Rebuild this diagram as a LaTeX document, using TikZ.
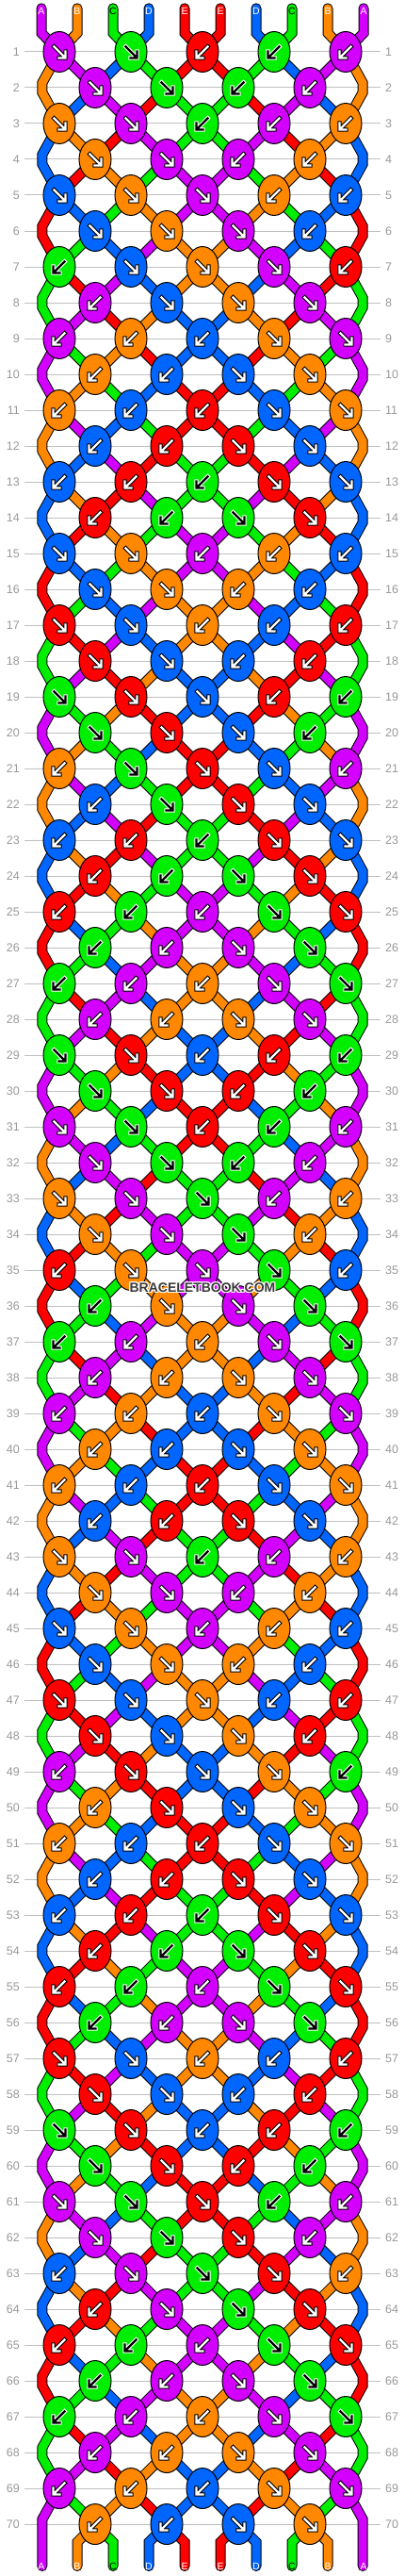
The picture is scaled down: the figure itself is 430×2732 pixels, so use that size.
\documentclass[tikz,border=0pt]{standalone}
\usepackage{fontspec}
\setmainfont{Liberation Sans}
\usetikzlibrary{shapes.geometric}
\definecolor{cA}{HTML}{D400FF}
\definecolor{cB}{HTML}{FF8800}
\definecolor{cC}{HTML}{00EE00}
\definecolor{cD}{HTML}{0066FF}
\definecolor{cE}{HTML}{FF0000}
\colorlet{fgA}{white}\colorlet{fgB}{white}\colorlet{fgC}{black}\colorlet{fgD}{white}\colorlet{fgE}{white}
\colorlet{bgA}{black}\colorlet{bgB}{black}\colorlet{bgC}{white}\colorlet{bgD}{black}\colorlet{bgE}{black}
\definecolor{gridgray}{HTML}{C0C0C0}
\definecolor{numgray}{HTML}{999999}
\definecolor{wmgray}{HTML}{3A3A3A}
\pgfdeclarelayer{gridlayer}
\pgfdeclarelayer{threadlayer}
\pgfsetlayers{gridlayer,threadlayer,main}
% initial string order
\expandafter\def\csname S1\endcsname{A}
\expandafter\def\csname S2\endcsname{B}
\expandafter\def\csname S3\endcsname{C}
\expandafter\def\csname S4\endcsname{D}
\expandafter\def\csname S5\endcsname{E}
\expandafter\def\csname S6\endcsname{E}
\expandafter\def\csname S7\endcsname{D}
\expandafter\def\csname S8\endcsname{C}
\expandafter\def\csname S9\endcsname{B}
\expandafter\def\csname S10\endcsname{A}
% knot directions, period 14 rows
\expandafter\def\csname D1\endcsname{f,f,b,b,b}
\expandafter\def\csname D2\endcsname{f,f,b,b}
\expandafter\def\csname D3\endcsname{f,f,b,b,b}
\expandafter\def\csname D4\endcsname{f,f,b,b}
\expandafter\def\csname D5\endcsname{f,f,f,b,b}
\expandafter\def\csname D6\endcsname{f,f,f,b}
\expandafter\def\csname D7\endcsname{b,f,f,f,b}
\expandafter\def\csname D8\endcsname{b,f,f,f}
\expandafter\def\csname D9\endcsname{b,b,b,f,f}
\expandafter\def\csname D10\endcsname{b,b,f,f}
\expandafter\def\csname D11\endcsname{b,b,b,f,f}
\expandafter\def\csname D12\endcsname{b,b,f,f}
\expandafter\def\csname D13\endcsname{b,b,b,f,f}
\expandafter\def\csname D14\endcsname{b,b,f,f}
\newcommand\arrowSE[4]{%
  \draw[draw=#4, line width=4.4pt, line cap=rect, line join=miter, shift={(#1,#2)}]
    (-5.5,-5.5) -- (5,5) (-0.5,6.5) -- (6.5,6.5) -- (6.5,-0.5);
  \draw[draw=#3, line width=2.4pt, line cap=rect, line join=miter, shift={(#1,#2)}]
    (-5.5,-5.5) -- (5,5) (-0.5,6.5) -- (6.5,6.5) -- (6.5,-0.5);
}
\newcommand\arrowSW[4]{%
  \draw[draw=#4, line width=4.4pt, line cap=rect, line join=miter, shift={(#1,#2)}]
    (5.5,-5.5) -- (-5,5) (0.5,6.5) -- (-6.5,6.5) -- (-6.5,-0.5);
  \draw[draw=#3, line width=2.4pt, line cap=rect, line join=miter, shift={(#1,#2)}]
    (5.5,-5.5) -- (-5,5) (0.5,6.5) -- (-6.5,6.5) -- (-6.5,-0.5);
}
\tikzset{
  knot/.style={ellipse, draw=black, line width=1pt, minimum width=34pt, minimum height=43pt, inner sep=0pt},
  thread/.style={draw=black, line width=1pt, double distance=9pt, line cap=round, line join=miter},
  rownum/.style={text=numgray, inner sep=0pt, font=\fontsize{12.5}{14}\selectfont},
  strlabel/.style={inner sep=0pt, font=\fontsize{10.5}{12}\selectfont},
  wmark/.style={inner sep=0pt, font=\bfseries\fontsize{14}{16}\selectfont},
  gridline/.style={draw=gridgray, line width=1pt}
}
\begin{document}
\begin{tikzpicture}[x=1pt,y=-1pt]
\useasboundingbox (0,0) rectangle (430,2732);
\begin{pgfonlayer}{gridlayer}
\fill[white] (0,0) rectangle (430,2732);
\foreach \row in {1,...,70}{
  \pgfmathsetmacro{\yy}{55+38*(\row-1)}
  \coordinate (gl-\row) at (26,\yy);
  \coordinate (gr-\row) at (404,\yy);
  \draw[gridline] (gl-\row) -- (gr-\row);
}
\end{pgfonlayer}
\foreach \row in {1,...,70}{
  \pgfmathsetmacro{\yy}{55+38*(\row-1)}
  \node[rownum, anchor=east] (ln-\row) at (21,\yy) {\row};
  \node[rownum, anchor=west] (rn-\row) at (409,\yy) {\row};
}
% knots (simulation)
\foreach \row in {1,...,70}{
  \pgfmathtruncatemacro{\m}{mod(\row-1,14)+1}
  \pgfmathtruncatemacro{\od}{mod(\row,2)}
  \pgfmathsetmacro{\yy}{55+38*(\row-1)}
  \edef\dlist{\csname D\m\endcsname}
  \foreach \kd [count=\ki] in \dlist {
    \pgfmathtruncatemacro{\pa}{\od==1 ? 2*\ki-1 : 2*\ki}
    \pgfmathtruncatemacro{\pb}{\pa+1}
    \pgfmathsetmacro{\xx}{63+38*(\pa-1)}
    \edef\lc{\csname S\pa\endcsname}
    \edef\rc{\csname S\pb\endcsname}
    \if\kd f\edef\kc{\lc}\else\edef\kc{\rc}\fi
    \node[knot, fill=c\kc] (k-\row-\pa) at (\xx,\yy) {};
    \if\kd f\arrowSE{\xx}{\yy}{fg\kc}{bg\kc}\else\arrowSW{\xx}{\yy}{fg\kc}{bg\kc}\fi
    \global\expandafter\let\csname S\pa\endcsname\rc
    \global\expandafter\let\csname S\pb\endcsname\lc
  }
  \foreach \p in {1,...,10}{\expandafter\xdef\csname T\row-\p\endcsname{\csname S\p\endcsname}}
}
% threads
\begin{pgfonlayer}{threadlayer}
\foreach \row in {1,...,69}{
  \pgfmathtruncatemacro{\nr}{\row+1}
  \pgfmathtruncatemacro{\od}{mod(\row,2)}
  \foreach \p in {2,...,9}{
    \pgfmathtruncatemacro{\qa}{mod(\p,2)==\od ? \p : \p-1}
    \pgfmathtruncatemacro{\qb}{mod(\p,2)==1-\od ? \p : \p-1}
    \edef\tcc{c\csname T\row-\p\endcsname}
    \draw[thread, double=\tcc] (k-\row-\qa.center) -- (k-\nr-\qb.center);
  }
}
\foreach \row in {2,4,...,70}{
  \pgfmathtruncatemacro{\prw}{\row-1}
  \pgfmathtruncatemacro{\nr}{\row+1}
  \pgfmathsetmacro{\yy}{55+38*(\row-1)}
  \edef\tcl{c\csname T\prw-1\endcsname}
  \edef\tcr{c\csname T\prw-10\endcsname}
  \coordinate (eLa-\row) at (44.8,\yy-5);
  \coordinate (eLb-\row) at (44.8,\yy+5);
  \coordinate (eRa-\row) at (385.2,\yy-5);
  \coordinate (eRb-\row) at (385.2,\yy+5);
  \ifnum\row<70
    \draw[thread, double=\tcl] (k-\prw-1.center) -- (eLa-\row) -- (eLb-\row) -- (k-\nr-1.center);
    \draw[thread, double=\tcr] (k-\prw-9.center) -- (eRa-\row) -- (eRb-\row) -- (k-\nr-9.center);
  \else
    \coordinate (endL) at (44.8,2721.5);
    \coordinate (endR) at (385.2,2721.5);
    \draw[thread, double=\tcl] (k-\prw-1.center) -- (eLa-\row) -- (endL);
    \draw[thread, double=\tcr] (k-\prw-9.center) -- (eRa-\row) -- (endR);
  \fi
}
\foreach \p/\s in {1/A,2/B,3/C,4/D,5/E,6/E,7/D,8/C,9/B,10/A}{
  \pgfmathtruncatemacro{\q}{mod(\p,2)==1 ? \p : \p-1}
  \pgfmathsetmacro{\xs}{44+38*(\p-1)}
  \coordinate (top-\p) at (\xs,8.8);
  \coordinate (topb-\p) at (\xs,35);
  \draw[thread, double=c\s] (top-\p) -- (topb-\p) -- (k-1-\q.center);
}
\foreach \p in {2,...,9}{
  \pgfmathtruncatemacro{\q}{mod(\p,2)==0 ? \p : \p-1}
  \pgfmathsetmacro{\xs}{44+38*(\p-1)}
  \edef\tcc{c\csname T70-\p\endcsname}
  \coordinate (botb-\p) at (\xs,2696);
  \coordinate (bot-\p) at (\xs,2721.5);
  \draw[thread, double=\tcc] (k-70-\q.center) -- (botb-\p) -- (bot-\p);
}
\end{pgfonlayer}
% string labels
\foreach \p/\s in {1/A,2/B,3/C,4/D,5/E,6/E,7/D,8/C,9/B,10/A}{
  \pgfmathsetmacro{\xs}{44+38*(\p-1)}
  \node[strlabel, text=fg\s] (tl-\p) at (\xs,12.3) {\s};
  \node[strlabel, text=fg\s] (bl-\p) at (\xs,2721.5) {\s};
}
% watermark
\foreach \dx/\dy in {-1/-1,0/-1,1/-1,-1/0,1/0,-1/1,0/1,1/1}{
  \node[wmark, text=white, xshift=\dx pt, yshift=\dy pt] at (215,1365.5) {BRACELETBOOK.COM};
}
\node[wmark, text=wmgray] (wm) at (215,1365.5) {BRACELETBOOK.COM};
\end{tikzpicture}
\end{document}
